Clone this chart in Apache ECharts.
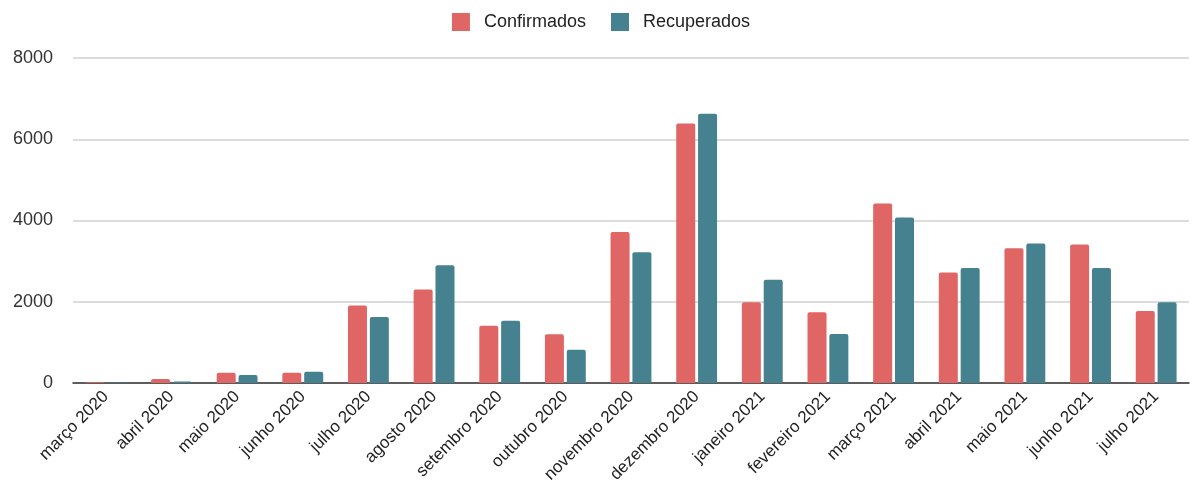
<!DOCTYPE html>
<html>
<head>
<meta charset="utf-8">
<script src="https://cdn.jsdelivr.net/npm/echarts@6/dist/echarts.min.js"></script>
<style>
  html, body { margin: 0; padding: 0; background: #fff; }
  #chart { width: 1202px; height: 492px; }
</style>
</head>
<body>
<div id="chart"></div>
<script>
const meses = ['março 2020', 'abril 2020', 'maio 2020', 'junho 2020', 'julho 2020', 'agosto 2020',
  'setembro 2020', 'outubro 2020', 'novembro 2020', 'dezembro 2020', 'janeiro 2021', 'fevereiro 2021',
  'março 2021', 'abril 2021', 'maio 2021', 'junho 2021', 'julho 2021']
const confirmados = [20, 100, 250, 250, 1910, 2300, 1410, 1200, 3720, 6390, 1990, 1740, 4420, 2720, 3320, 3410, 1770]
const recuperados = [10, 40, 200, 280, 1625, 2900, 1530, 820, 3220, 6630, 2540, 1205, 4075, 2830, 3435, 2830, 1990]

const chart = echarts.init(document.getElementById('chart'))

chart.setOption({
  animation: false,
  textStyle: { fontFamily: '"Liberation Sans", Arial, sans-serif' },
  legend: {
    top: 8,
    left: 'center',
    itemWidth: 18,
    itemHeight: 18,
    itemGap: 25,
    textStyle: { fontSize: 18, color: '#222', padding: [0, 0, 0, 9] },
    data: [
      { name: 'Confirmados', icon: 'rect' },
      { name: 'Recuperados', icon: 'rect' }
    ]
  },
  grid: { left: 73, right: 13, top: 58, bottom: 109 },
  xAxis: {
    type: 'category',
    data: meses,
    axisTick: { show: false },
    axisLine: { lineStyle: { color: '#333', width: 1.5 } },
    axisLabel: { rotate: 45, fontSize: 17, color: '#222', margin: 11, interval: 0 }
  },
  yAxis: {
    type: 'value',
    min: 0,
    max: 8000,
    interval: 2000,
    axisLabel: { fontSize: 18, color: '#333', margin: 20, formatter: v => String(v) },
    splitLine: { lineStyle: { color: '#d0d0d0', width: 1.5 } }
  },
  series: [
    {
      name: 'Confirmados',
      type: 'bar',
      data: confirmados,
      barWidth: 19,
      barGap: '15%',
      itemStyle: { color: '#e06666', borderRadius: [2, 2, 0, 0] }
    },
    {
      name: 'Recuperados',
      type: 'bar',
      data: recuperados,
      barWidth: 19,
      itemStyle: { color: '#45818e', borderRadius: [2, 2, 0, 0] }
    }
  ]
})
</script>
</body>
</html>
